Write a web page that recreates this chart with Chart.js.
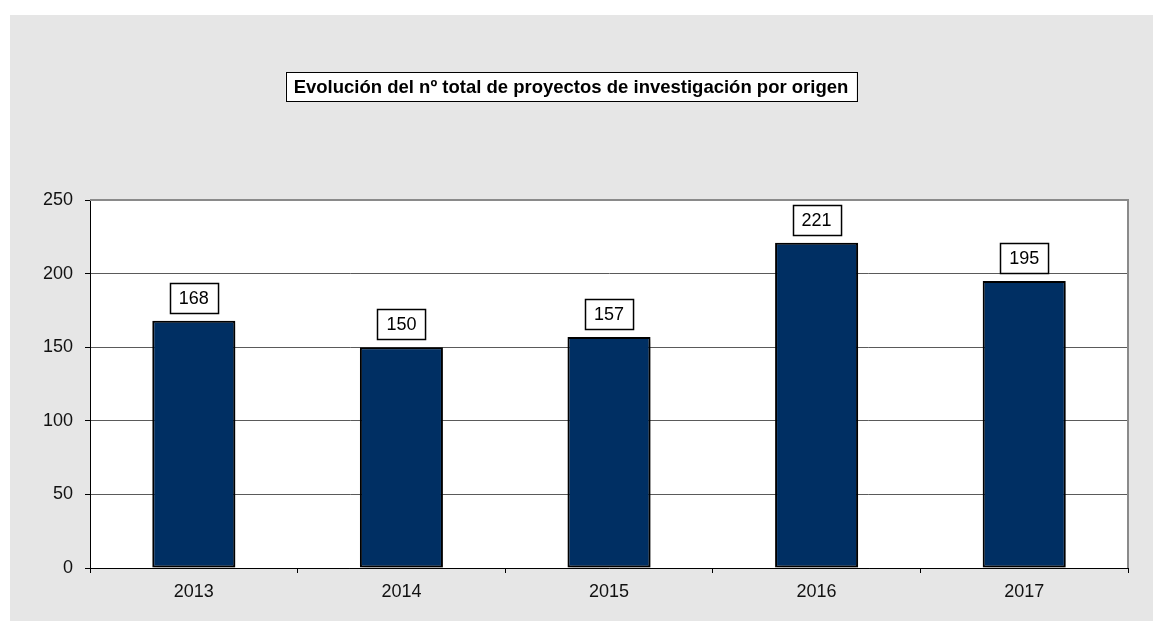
<!DOCTYPE html>
<html>
<head>
<meta charset="utf-8">
<script src="https://cdn.jsdelivr.net/npm/chart.js@4"></script>
<style>
  html, body { margin: 0; padding: 0; background: #fff; }
  #wrap { width: 1153px; height: 621px; }
</style>
</head>
<body>
<div id="wrap"><canvas id="myChart" width="1153" height="621"></canvas></div>
<script>
const years = ["2013", "2014", "2015", "2016", "2017"];
const proyectos = [168, 150, 157, 221, 195];
const yTicks = [0, 50, 100, 150, 200, 250];
const titulo = "Evolución del nº total de proyectos de investigación por origen";

const FONT = "'Liberation Sans', Arial, sans-serif";

// gray panel behind everything
const fondo = {
  id: "fondo",
  beforeDraw(chart) {
    const c = chart.ctx;
    c.save();
    c.fillStyle = "#e6e6e6";
    c.fillRect(10, 15, chart.width - 10, chart.height - 15);
    const a = chart.chartArea;
    c.fillStyle = "#fff";
    c.fillRect(a.left, a.top, a.right - a.left, a.bottom - a.top);
    c.restore();
  },
  afterDraw(chart) {
    const c = chart.ctx;
    const a = chart.chartArea;
    // top + right border of plot
    c.save();
    c.strokeStyle = "#8a8a8a";
    c.lineWidth = 2;
    c.beginPath();
    c.moveTo(a.left, a.top);
    c.lineTo(a.right, a.top);
    c.lineTo(a.right, a.bottom);
    c.stroke();

    // title box
    c.font = "bold 18.5px " + FONT;
    const w = c.measureText(titulo).width + 16;
    const cx = 571, cy = 86.5;
    c.fillStyle = "#fff";
    c.fillRect(cx - w / 2, cy - 14.5, w, 29);
    c.strokeStyle = "#000";
    c.lineWidth = 1;
    c.strokeRect(Math.round(cx - w / 2) + 0.5, cy - 14, Math.round(w), 29);
    c.fillStyle = "#000";
    c.textAlign = "center";
    c.textBaseline = "middle";
    c.fillText(titulo, cx, cy + 1);

    // value labels
    const meta = chart.getDatasetMeta(0);
    c.font = "18px " + FONT;
    meta.data.forEach((bar, i) => {
      const txt = String(proyectos[i]);
      const bw = c.measureText(txt).width + 18;
      const bh = 30;
      const x = Math.round(bar.x - bw / 2) + 0.5;
      const y = Math.round(bar.y - 8 - bh) + 0.5;
      c.fillStyle = "#fff";
      c.fillRect(x, y, bw, bh);
      c.strokeStyle = "#000";
      c.lineWidth = 1.5;
      c.strokeRect(x, y, bw, bh);
      c.fillStyle = "#000";
      c.fillText(txt, bar.x, y + bh / 2 + 1);
    });
    c.restore();
  },
  beforeDatasetsDraw(chart) {
    const c = chart.ctx;
    c.save();
    c.shadowColor = "rgba(0,0,0,0.35)";
    c.shadowBlur = 5;
    c.shadowOffsetX = 3;
    c.shadowOffsetY = 2;
  },
  afterDatasetsDraw(chart) {
    chart.ctx.restore();
  }
};

const ctx = document.getElementById("myChart").getContext("2d");
const myChart = new Chart(ctx, {
  type: "bar",
  data: {
    labels: years,
    datasets: [
      {
        data: proyectos,
        backgroundColor: "#002f63",
        borderColor: "#000",
        borderWidth: 2,
        borderSkipped: false,
        barPercentage: 0.4,
        categoryPercentage: 1,
      },
    ],
  },
  options: {
    responsive: false,
    animation: false,
    layout: { padding: { left: 12, right: 25, top: 200, bottom: 16 } },
    plugins: {
      legend: { display: false },
      title: { display: false },
      tooltip: { enabled: false },
    },
    scales: {
      x: {
        grid: {
          offset: true,
          drawOnChartArea: false,
          tickLength: 5,
          tickColor: "#000",
        },
        border: { color: "#000", width: 1 },
        ticks: { color: "#111", font: { family: FONT, size: 18 }, padding: 8 },
        afterFit(scale) { scale.height = 37; },
      },
      y: {
        min: 0,
        max: 250,
        afterBuildTicks(scale) { scale.ticks = yTicks.map(v => ({ value: v })); },
        grid: { color: "#5a5a5a", tickLength: 5, tickColor: "#000" },
        border: { color: "#000", width: 1 },
        ticks: { color: "#111", font: { family: FONT, size: 18 }, padding: 12 },
        afterFit(scale) { scale.width = 78; },
      },
    },
  },
  plugins: [fondo],
});
</script>
</body>
</html>
